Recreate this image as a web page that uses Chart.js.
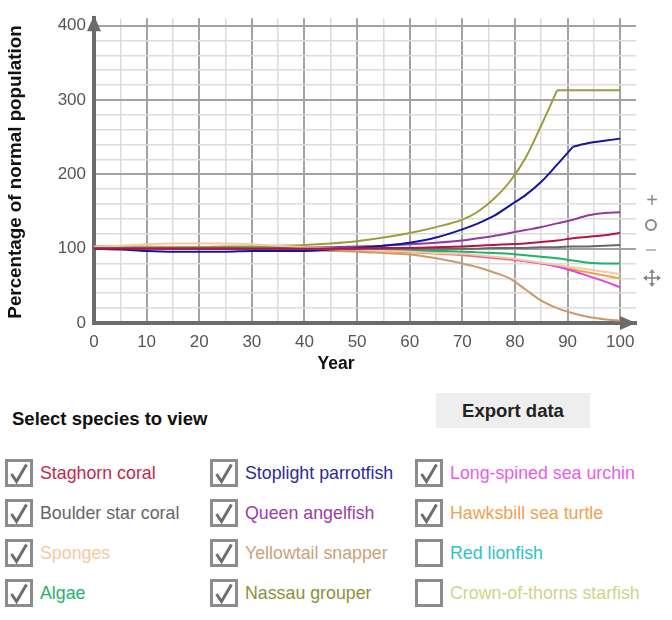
<!DOCTYPE html>
<html><head><meta charset="utf-8">
<script src="https://cdn.jsdelivr.net/npm/chart.js@4/dist/chart.umd.min.js"></script>
<style>
body{margin:0;background:#fff;font-family:"Liberation Sans",Arial,sans-serif;}
#wrap{position:relative;width:672px;height:620px;overflow:hidden;background:#fff;}
#chart{position:absolute;left:0;top:0;}
.ytitle{position:absolute;left:-185px;top:162px;width:400px;height:20px;line-height:20px;text-align:center;transform:rotate(-90deg);font-weight:bold;font-size:18.8px;white-space:nowrap;color:#111;}
.xtitle{position:absolute;left:236px;top:353px;width:200px;height:20px;line-height:20px;text-align:center;font-weight:bold;font-size:17.5px;color:#111;}
.ctl{position:absolute;color:#888;transform:translate(-50%,-50%);}
.sel{position:absolute;left:12px;top:409px;height:20px;line-height:20px;font-weight:bold;font-size:18.5px;color:#111;white-space:nowrap;}
.export{position:absolute;left:436px;top:393px;width:154px;height:35px;background:#eeeeee;font-weight:bold;font-size:18.5px;color:#222;display:flex;align-items:center;justify-content:center;}
.item{position:absolute;height:28px;display:flex;align-items:center;font-size:17.8px;white-space:nowrap;}
.box{width:22px;height:22px;border:3px solid #8c8c8c;margin-right:7px;position:relative;background:#fff;flex:none;}
.box svg{position:absolute;left:0;top:0;}
</style></head><body>
<div id="wrap">
<canvas id="chart" width="672" height="380"></canvas>
<div class="ytitle">Percentage of normal population</div>
<div class="xtitle">Year</div>
<div class="ctl" style="left:652px;top:200px;font-size:20px;">+</div>
<div class="ctl" style="left:651px;top:225px;width:8px;height:8px;border:2px solid #888;border-radius:50%;"></div>
<div class="ctl" style="left:651px;top:250px;width:10px;height:2px;background:#bbb;"></div>
<div class="ctl" style="left:652px;top:280px;">
<svg width="18" height="18" viewBox="0 0 18 18"><g stroke="#888" stroke-width="1.6" fill="none"><line x1="9" y1="2" x2="9" y2="16"/><line x1="2" y1="9" x2="16" y2="9"/></g><g fill="#888"><polygon points="9,0 6,4 12,4"/><polygon points="9,18 6,14 12,14"/><polygon points="0,9 4,6 4,12"/><polygon points="18,9 14,6 14,12"/></g></svg></div>
<div class="sel">Select species to view</div>
<div class="export">Export data</div>
<div id="legend"></div>
</div>
<script>
// ---- data ----
const years = [0,5,10,15,20,25,30,35,40,45,50,55,60,65,70,73,76,79,82,85,88,91,94,97,100];
const staghornCoral      = [100,100,100,100,100,100,100,100,100,100,100,101,101,102,103,104,105,106,107,109,111,114,116,118,121];
const boulderStarCoral   = [101,101,101,101,101,101,100,100,100,100,100,100,100,100,100,100,101,101,101,102,102,103,103,104,105];
const sponges            = [102,104,106,107,107,107,106,104,102,100,99,97,96,94,93,91,89,87,84,81,78,75,72,69,66];
const algae              = [101,101,101,101,101,101,101,100,100,100,99,99,98,97,96,95,94,93,91,89,87,84,81,80,80];
const stoplightParrotfish= [100,99,97,96,96,96,97,97,97,99,101,104,108,115,126,134,144,158,172,190,213,237,242,245,248];
const queenAngelfish     = [100,101,101,100,100,100,100,101,101,102,103,104,106,108,111,114,117,121,125,129,134,139,145,148,149];
const yellowtailSnapper  = [103,103,102,102,101,101,100,99,98,97,96,94,92,87,80,75,68,60,45,30,20,13,8,5,3];
const nassauGrouper      = [100,101,101,102,102,103,103,104,105,107,110,115,121,129,139,150,167,190,222,266,313,313,313,313,313];
const seaUrchin          = [100,100,100,101,101,102,102,102,102,101,100,98,96,94,92,90,88,86,83,80,76,70,63,56,48];
const hawksbillTurtle    = [103,103,103,102,102,101,101,100,99,98,97,96,95,93,91,89,87,85,83,80,76,72,68,64,60];

const xTicks = [0,5,10,15,20,25,30,35,40,45,50,55,60,65,70,75,80,85,90,95,100];
const yTicks = [0,20,40,60,80,100,120,140,160,180,200,220,240,260,280,300,320,340,360,380,400];

const speciesNames = ["Staghorn coral","Boulder star coral","Sponges","Algae","Stoplight parrotfish","Queen angelfish","Yellowtail snapper","Nassau grouper","Long-spined sea urchin","Hawksbill sea turtle","Red lionfish","Crown-of-thorns starfish"];
const speciesShown = [true,true,true,true,true,true,true,true,true,true,false,false];
const speciesValues = [staghornCoral,boulderStarCoral,sponges,algae,stoplightParrotfish,queenAngelfish,yellowtailSnapper,nassauGrouper,seaUrchin,hawksbillTurtle,null,null];
// years where a curve has a sharp corner
const cornerYear = {"Stoplight parrotfish":91,"Nassau grouper":88};

// ---- styles ----
const lineColors = ["#b3173f","#686868","#f6c9a0","#1fb26b","#15159e","#933a9c","#c89b6c","#9c9c3c","#e046e0","#f0a04e","#2fc2c8","#d2d28a"];
const textColors = ["#c02a4c","#666666","#f5c9a2","#1fb26b","#2b2b9c","#9a40a3","#c9a27c","#8f8f3c","#e85ce8","#eea252","#2fc2c8","#d2d28a"];

const datasets = [];
speciesNames.forEach((name,i)=>{
  if(!speciesShown[i] || !speciesValues[i]) return;
  const pts = [];
  years.forEach((x,k)=>{
    pts.push({x:x,y:speciesValues[i][k]});
    if(cornerYear[name]===x){ // break the smoothing at the corner
      pts.push({x:x,y:null});
      pts.push({x:x,y:speciesValues[i][k]});
    }
  });
  datasets.push({
    label:name,
    data: pts,
    borderColor: lineColors[i],
    borderWidth: 2,
    pointRadius: 0,
    fill:false,
    spanGaps:false,
    cubicInterpolationMode:'monotone'
  });
});

const arrowPlugin = {
  id:'arrows',
  afterDraw(chart){
    const c = chart.ctx, xs = chart.scales.x, ys = chart.scales.y;
    const x0 = xs.getPixelForValue(0), y0 = ys.getPixelForValue(0);
    const yTop = ys.top, xEnd = xs.right;
    c.save();
    c.fillStyle = '#6b6b6b';
    c.beginPath();
    c.moveTo(x0, yTop-3); c.lineTo(x0-7, yTop+13); c.lineTo(x0+7, yTop+13); c.closePath(); c.fill();
    c.beginPath();
    c.moveTo(xEnd, y0); c.lineTo(xEnd-16, y0-7); c.lineTo(xEnd-16, y0+7); c.closePath(); c.fill();
    c.restore();
  }
};

const gridColor = (ctx, major) => {
  const v = ctx.tick ? ctx.tick.value : 0;
  return (v % major === 0) ? '#a2a2a2' : '#dcdcdc';
};
const gridWidth = (ctx, major) => {
  const v = ctx.tick ? ctx.tick.value : 0;
  return (v % major === 0) ? 2 : 1.6;
};
const tickFont = {family:'"Liberation Sans", Arial, sans-serif', size:17};

new Chart(document.getElementById('chart'), {
  type:'line',
  data:{datasets},
  options:{
    responsive:false,
    animation:false,
    events:[],
    layout:{padding:{left:0,right:36,top:15,bottom:0}},
    plugins:{legend:{display:false},tooltip:{enabled:false},title:{display:false}},
    scales:{
      x:{
        type:'linear', min:0, max:103,
        afterBuildTicks:s=>{s.ticks = xTicks.map(v=>({value:v}));},
        afterFit:s=>{s.height = 57;},
        grid:{color:c=>gridColor(c,10), lineWidth:c=>gridWidth(c,10), drawTicks:false},
        border:{display:true,color:'#6b6b6b',width:4},
        ticks:{autoSkip:false,maxRotation:0,padding:9,color:'#555',font:tickFont,
          callback:v=> (v%10===0 ? String(v) : '')}
      },
      y:{
        type:'linear', min:0, max:410,
        afterBuildTicks:s=>{s.ticks = yTicks.map(v=>({value:v}));},
        afterFit:s=>{s.width = 94;},
        grid:{color:c=>gridColor(c,100), lineWidth:c=>gridWidth(c,100), drawTicks:false},
        border:{display:true,color:'#6b6b6b',width:4},
        ticks:{autoSkip:false,padding:8,color:'#555',font:tickFont,
          callback:v=> (v%100===0 ? String(v) : '')}
      }
    }
  },
  plugins:[arrowPlugin]
});

// ---- species selector ----
const colLeft = [5,210,415];
const rowTop = [459,499,539,579];
const legend = document.getElementById('legend');
const order = [[0,1,2,3],[4,5,6,7],[8,9,10,11]];
order.forEach((col,ci)=>{
  col.forEach((idx,ri)=>{
    const d = document.createElement('div');
    d.className='item';
    d.style.left = colLeft[ci]+'px';
    d.style.top = rowTop[ri]+'px';
    const check = speciesShown[idx] ?
      '<svg width="22" height="22" viewBox="0 0 22 22"><path d="M3.5 12 L8.5 19.5 L18.5 2.5" stroke="#6e6e6e" stroke-width="3" fill="none" stroke-linejoin="miter"/></svg>' : '';
    d.innerHTML = '<div class="box">'+check+'</div><span style="color:'+textColors[idx]+'">'+speciesNames[idx]+'</span>';
    legend.appendChild(d);
  });
});
</script>
</body></html>
